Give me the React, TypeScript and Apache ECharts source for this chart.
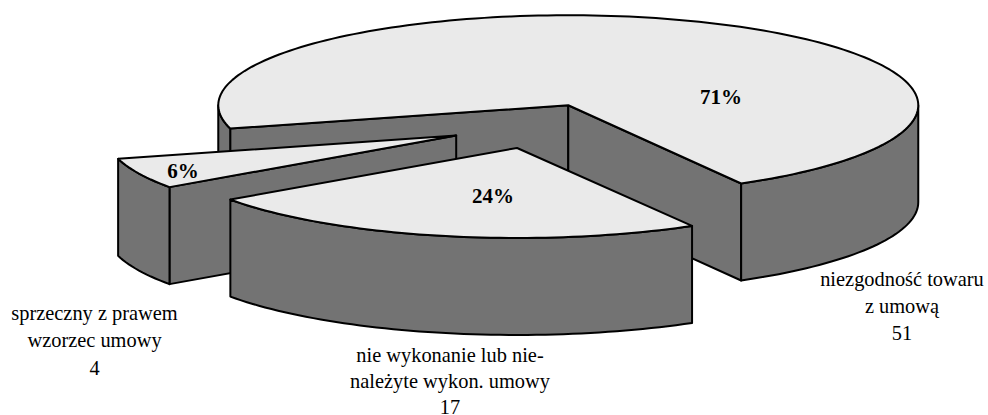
import React, { useEffect, useRef } from "react";
import * as echarts from "echarts";

const categories = ["niezgodność towaru\nz umową", "nie wykonanie lub nie-\nnależyte wykon. umowy", "sprzeczny z prawem\nwzorzec umowy"];
const values = [51, 17, 4];

// Geometry of the tilted pie (pixels), kept apart from the data.
const CX = 534.5, CY = 126, RX = 350, RY = 90, DEPTH = 97, EXPLODE = 0.25;
const SECOND_START = 60;
const PAINT_ORDER = [0, 2, 1];
const NUDGE_X = [0, 1.5, 1];
const END_TWEAK = [0.4, 0, 0];
const PCT_POS = [[721, 97], [493, 196], [183, 171]];
const LABEL_POS = [[902, 305.5], [450, 381], [94.5, 340]];
const LABEL_LINE = [27, 26, 27.5];

const TOP = "#eaeaea", WALL = "#737373", INK = "#000";
const total = values.reduce((a, b) => a + b, 0);

function sliceRange(i: number): [number, number] {
  const sweeps = values.map((v) => (v / total) * 360);
  if (i === 1) return [SECOND_START, SECOND_START + sweeps[1]];
  if (i === 2) return [SECOND_START + sweeps[1], SECOND_START + sweeps[1] + sweeps[2]];
  return [SECOND_START + sweeps[1] + sweeps[2], SECOND_START + 360 + END_TWEAK[0]];
}

const rad = (d: number) => (d * Math.PI) / 180;

function renderItem(_p: any, api: any) {
  const i = api.value(0) as number;
  const [a0, a1] = sliceRange(i);
  const mid = (a0 + a1) / 2;
  const ox = CX + NUDGE_X[i] + EXPLODE * RX * Math.cos(rad(mid));
  const oy = CY + EXPLODE * RY * Math.sin(rad(mid));
  const rim = (a: number): number[] => [ox + RX * Math.cos(rad(a)), oy + RY * Math.sin(rad(a))];
  const arc = (from: number, to: number): number[][] => {
    const n = Math.max(2, Math.ceil(Math.abs(to - from) / 1.5));
    const out: number[][] = [];
    for (let k = 0; k <= n; k++) out.push(rim(from + ((to - from) * k) / n));
    return out;
  };
  const down = (p: number[]) => [p[0], p[1] + DEPTH];
  const poly = (points: number[][], fill: string) => ({
    type: "polygon",
    shape: { points },
    style: { fill, stroke: INK, lineWidth: 2, lineJoin: "round" },
  });
  const children: any[] = [];
  // Radial faces that look toward the viewer
  if (Math.sin(rad(a0 - 90)) > 0) {
    const e = rim(a0);
    children.push(poly([[ox, oy], e, down(e), [ox, oy + DEPTH]], WALL));
  }
  if (Math.sin(rad(a1 + 90)) > 0) {
    const e = rim(a1);
    children.push(poly([[ox, oy], e, down(e), [ox, oy + DEPTH]], WALL));
  }
  // Outer faces: only the parts of the rim that look toward the viewer
  for (const [lo, hi] of [[0, 180], [360, 540]]) {
    const from = Math.max(a0, lo), to = Math.min(a1, hi);
    if (to > from) {
      const top = arc(from, to);
      children.push(poly([...top, ...top.slice().reverse().map(down)], WALL));
    }
  }
  // Top face
  children.push(poly([[ox, oy], ...arc(a0, a1)], TOP));
  children.push({
    type: "text",
    style: {
      x: PCT_POS[i][0],
      y: PCT_POS[i][1],
      text: `${Math.round((values[i] / total) * 100)}%`,
      font: 'bold 21px "Liberation Serif"',
      fill: INK,
      align: "center",
      verticalAlign: "middle",
    },
  });
  return { type: "group", children };
}

export default function App() {
  const ref = useRef<HTMLDivElement>(null);
  useEffect(() => {
    document.body.style.margin = "0";
    const chart = echarts.init(ref.current!, null, { renderer: "svg" });
    chart.setOption({
      animation: false,
      backgroundColor: "#fff",
      series: [
        {
          type: "custom",
          coordinateSystem: "none",
          silent: true,
          clip: false,
          renderItem,
          data: PAINT_ORDER.map((i) => [i, values[i]]),
        },
      ],
      graphic: categories.map((c, i) => ({
        type: "text",
        silent: true,
        z: 10,
        style: {
          x: LABEL_POS[i][0],
          y: LABEL_POS[i][1],
          text: `${c}\n${values[i]}`,
          font: '20.4px "Liberation Serif"',
          lineHeight: LABEL_LINE[i],
          fill: INK,
          align: "center",
          verticalAlign: "middle",
        },
      })),
    });
    return () => chart.dispose();
  }, []);
  return <div ref={ref} style={{ width: 988, height: 415 }} />;
}
